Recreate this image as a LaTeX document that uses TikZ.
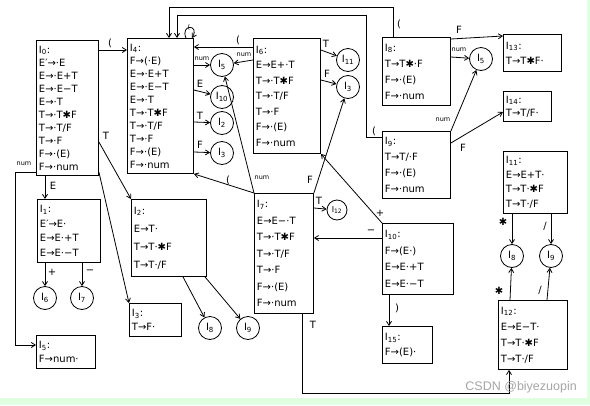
\documentclass[tikz,border=0pt]{standalone}
\usepackage{fontspec}
\setmainfont{DejaVu Sans}
\newfontfamily\wmfont{Liberation Sans}
\usetikzlibrary{arrows.meta}
\newcommand{\fs}[1]{\fontsize{10}{#1}\selectfont}
\tikzset{
 box/.style={draw, line width=0.9pt, anchor=north west, align=left, inner xsep=2.5pt, inner ysep=1.5pt},
 st/.style={draw, circle, line width=0.8pt, minimum size=23pt, inner sep=0pt, font=\fontsize{10}{11}\selectfont},
 arr/.style={line width=0.8pt, -{Straight Barb[length=4pt,width=5pt]}},
 lab/.style={font=\fontsize{10}{11}\selectfont, inner sep=1pt},
 numlab/.style={font=\fontsize{6.5}{7}\selectfont, inner sep=0.5pt},
}
\begin{document}
\begin{tikzpicture}[x=1pt,y=-1pt]
\useasboundingbox (0,0) rectangle (590,405);
\fill[white] (0,0) rectangle (590,405);
\fill[green!12] (0,398) rectangle (590,405);
\fill[green!12] (587,0) rectangle (590,398);

% boxes
\node[box,text width=57pt,minimum height=135pt,font=\fs{13}] (i0) at (36,40)
 {I\textsubscript{0}:\\E′→·E\\E→·E+T\\E→·E−T\\E→·T\\T→·T✱F\\T→·T/F\\T→·F\\F→·(E)\\F→·num};
\node[box,text width=61pt,minimum height=135pt,font=\fs{13}] (i4) at (127,38)
 {I\textsubscript{4}:\\F→(·E)\\E→·E+T\\E→·E−T\\E→·T\\T→·T✱F\\T→·T/F\\T→·F\\F→·(E)\\F→·num};
\node[box,text width=62pt,minimum height=115pt,font=\fs{15.5}] (i6) at (253,38)
 {I\textsubscript{6}:\\E→E+·T\\T→·T✱F\\T→·T/F\\T→·F\\F→·(E)\\F→·num};
\node[box,text width=63pt,minimum height=68pt,font=\fs{16}] (i8) at (382,37)
 {I\textsubscript{8}:\\T→T✱·F\\F→·(E)\\F→·num};
\node[box,text width=63pt,minimum height=67pt,font=\fs{16}] (i9) at (382,131)
 {I\textsubscript{9}:\\T→T/·F\\F→·(E)\\F→·num};
\node[box,text width=53pt,minimum height=37pt,font=\fs{15}] (i13) at (503,34)
 {I\textsubscript{13}:\\T→T✱F·};
\node[box,text width=43pt,minimum height=30pt,font=\fs{13}] (i14) at (503,91)
 {I\textsubscript{14}:\\T→T/F·};
\node[box,text width=59pt,minimum height=62pt,font=\fs{14.5}] (i11) at (503,151)
 {I\textsubscript{11}:\\E→E+T·\\T→T·✱F\\T→T·/F};
\node[box,text width=64pt,minimum height=69pt,font=\fs{16}] (i12) at (498,300)
 {I\textsubscript{12}:\\E→E−T·\\T→T·✱F\\T→T·/F};
\node[box,text width=58pt,minimum height=63pt,font=\fs{14.5}] (i1) at (37,199)
 {I\textsubscript{1}:\\E′→E·\\E→E·+T\\E→E·−T};
\node[box,text width=70pt,minimum height=77pt,font=\fs{18}] (i2) at (131,199)
 {I\textsubscript{2}:\\E→T·\\T→T·✱F\\T→T·/F};
\node[box,text width=47pt,minimum height=33pt,font=\fs{14}] (i3) at (129,303)
 {I\textsubscript{3}:\\T→F·};
\node[box,text width=54pt,minimum height=33pt,font=\fs{14}] (i5) at (36,335)
 {I\textsubscript{5}:\\F→num·};
\node[box,text width=54pt,minimum height=120pt,font=\fs{16.5}] (i7) at (254,193)
 {I\textsubscript{7}:\\E→E−·T\\T→·T✱F\\T→·T/F\\T→·F\\F→·(E)\\F→·num};
\node[box,text width=66pt,minimum height=71pt,font=\fs{16.5}] (i10) at (382,223)
 {I\textsubscript{10}:\\F→(E·)\\E→E·+T\\E→E·−T};
\node[box,text width=45pt,minimum height=37pt,font=\fs{15}] (i15) at (382,326)
 {I\textsubscript{15}:\\F→(E)·};

% circles
\node[st] (c5a) at (222,65) {I\textsubscript{5}};
\node[st] (c10a) at (222,97) {I\textsubscript{10}};
\node[st] (c2a) at (222,123) {I\textsubscript{2}};
\node[st] (c3a) at (222,153) {I\textsubscript{3}};
\node[st] (c11) at (348,60) {I\textsubscript{11}};
\node[st] (c3b) at (348,87) {I\textsubscript{3}};
\node[st,minimum size=20pt,font=\fontsize{8}{9}\selectfont] (c12) at (337,210) {I\textsubscript{12}};
\node[st] (c5b) at (481,59) {I\textsubscript{5}};
\node[st] (c8b) at (512,256) {I\textsubscript{8}};
\node[st] (c9b) at (551,256) {I\textsubscript{9}};
\node[st] (c6) at (45,298) {I\textsubscript{6}};
\node[st] (c7) at (82,298) {I\textsubscript{7}};
\node[st] (c8a) at (210,328) {I\textsubscript{8}};
\node[st] (c9a) at (248,328) {I\textsubscript{9}};

% I0
\draw[arr] (i0.east |- 0,50) -- (i4.west |- 0,50);
\node[lab] (l1) at (110,43) {(};
\draw[arr] (i0.east |- 0,142) -- (i2.north west);
\node[lab] (l2) at (106,136) {T};
\draw[arr] (i0.east |- 0,172) -- (i3.north west);
\draw[arr] (i0.south -| 45,0) -- (i1.north -| 45,0);
\node[lab] (l3) at (53,186) {E};
\draw[arr] (i0.west |- 0,172) -- (15,172) -- (15,345) -- (i5.west |- 0,345);
\node[numlab] (l4) at (24,164) {num};

% I4
\draw[arr] (i4.east |- 0,65) -- (c5a);
\node[numlab] (l5) at (202,59) {num};
\draw[arr] (i4.east |- 0,90) -- (c10a);
\node[lab] (l6) at (200,84) {E};
\draw[arr] (i4.east |- 0,122) -- (c2a);
\node[lab] (l7) at (200,116) {T};
\draw[arr] (i4.east |- 0,152) -- (c3a);
\node[lab] (l8) at (200,145) {F};
\draw[arr] (i4.north -| 186,0) .. controls (180,24) and (200,24) .. (i4.north -| 192,0);
\node[numlab] (l9) at (189,27) {(};

% long top routes
\draw[arr] (i8.north -| 393,0) -- (393,7) -- (169,7) -- (i4.north -| 169,0);
\node[lab] (l10) at (399,24) {(};
\draw[arr] (i9.west |- 0,137) -- (366,137) -- (366,15) -- (177,15) -- (i4.north -| 177,0);
\node[lab] (l11) at (374,131) {(};

% I6
\draw[arr] (i6.west |- 0,47) -- (i4.east |- 0,47);
\node[lab] (l12) at (238,40) {(};
\draw[arr] (i6.west |- 0,60) -- (c5a);
\node[numlab] (l13) at (244,55) {num};
\draw[arr] (i6.east |- 0,50) -- (c11);
\node[lab] (l14) at (326,44) {T};
\draw[arr] (i6.east |- 0,80) -- (c3b);
\node[lab] (l15) at (327,74) {F};

% I7
\draw[arr] (i7.north west) -- (i4.south east);
\node[lab] (l16) at (228,180) {(};
\draw[arr] (i7.north west) -- (c5a);
\node[numlab] (l17) at (262,178) {num};
\draw[arr] (i7.north east) -- (c3b);
\node[lab] (l18) at (310,180) {F};
\draw[arr] (i7.east |- 0,208) -- (c12);
\node[lab] (l19) at (319,201) {T};
\draw[arr] (i7.south -| 302,0) -- (302,393) -- (509,393) -- (i12.south -| 509,0);
\node[lab] (l20) at (313,325) {T};

% I10
\draw[arr] (i10.north west) -- (i6.south east);
\node[lab] (l21) at (380,213) {+};
\draw[arr] (i10.west |- 0,238) -- (i7.east |- 0,238);
\node[lab] (l22) at (371,232) {−};
\draw[arr] (i10.south -| 389,0) -- (i15.north -| 389,0);
\node[lab] (l23) at (397,308) {)};

% I8, I9
\draw[arr] (i8.east |- 0,39) -- (i13.west |- 0,36);
\node[lab] (l24) at (459,30) {F};
\draw[arr] (i8.east |- 0,57) -- (c5b);
\node[numlab] (l25) at (459,50) {num};
\draw[arr] (i9.north east) -- (c5b);
\node[numlab] (l26) at (443,120) {num};
\draw[arr] (i9.east |- 0,143) -- (i14.west |- 0,112);
\node[lab] (l27) at (463,148) {F};

% I11, I12
\draw[arr] (i11.south -| 512,0) -- (c8b);
\node[lab] (l28) at (503,222) {✱};
\draw[arr] (i11.south -| 551,0) -- (c9b);
\node[lab] (l29) at (545,226) {/};
\draw[arr] (i12.north -| 510,0) -- (c8b);
\node[lab] (l30) at (499,291) {✱};
\draw[arr] (i12.north -| 547,0) -- (c9b);
\node[lab] (l31) at (540,290) {/};

% I1, I2
\draw[arr] (i1.south -| 45,0) -- (c6);
\node[lab] (l32) at (52,272) {+};
\draw[arr] (i1.south -| 82,0) -- (c7);
\node[lab] (l33) at (90,272) {−};
\draw[arr] (i2.south -| 183,0) -- (c8a);
\draw[arr] (i2.south -| 205,0) -- (c9a);

\node[font=\wmfont\fontsize{12.5}{14}\selectfont, text=gray!70, anchor=south east, inner sep=0pt] (wm) at (577,393) {CSDN @biyezuopin};
\end{tikzpicture}
\end{document}
